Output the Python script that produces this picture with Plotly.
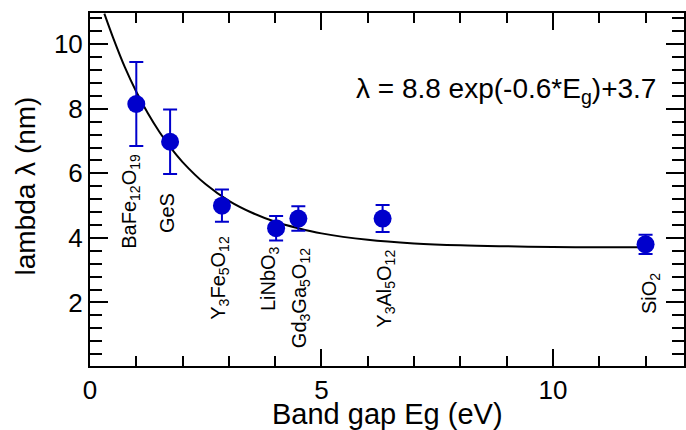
import plotly.graph_objects as go

# ---- data ----
materials = ["BaFe<sub>12</sub>O<sub>19</sub>", "GeS", "Y<sub>3</sub>Fe<sub>5</sub>O<sub>12</sub>",
             "LiNbO<sub>3</sub>", "Gd<sub>3</sub>Ga<sub>5</sub>O<sub>12</sub>",
             "Y<sub>3</sub>Al<sub>5</sub>O<sub>12</sub>", "SiO<sub>2</sub>"]
band_gap = [1.0, 1.73, 2.85, 4.02, 4.5, 6.32, 12.0]
lambda_nm = [8.15, 6.98, 5.0, 4.3, 4.6, 4.6, 3.8]
lambda_err = [1.3, 1.0, 0.5, 0.38, 0.38, 0.42, 0.3]

fit_x = [0.31, 0.5, 0.75, 1.0, 1.25, 1.5, 1.75, 2.0, 2.5, 3.0, 3.5, 4.0, 4.5,
         5.0, 6.0, 7.0, 8.0, 9.0, 10.0, 11.0, 12.0]
fit_y = [10.95, 10.2, 9.3, 8.53, 7.86, 7.28, 6.78, 6.35, 5.66, 5.15, 4.78, 4.5, 4.3,
         4.14, 3.94, 3.83, 3.77, 3.74, 3.72, 3.71, 3.71]

# axis ticks: major step, minor step
x_major, x_minor = 5, 1
y_major, y_minor = 2, 0.4

# ---- label placement (pixels) ----
label_xshift = [-6, -3, -2, -6, 2, 2, 5]
label_gap = [6, 17, 12, 4, 15, 16, 17]

BLUE = "#0000cc"
FONT = "Arial, Liberation Sans, sans-serif"

fig = go.Figure()
fig.add_trace(go.Scatter(x=fit_x, y=fit_y, mode="lines",
                         line=dict(color="black", width=2, shape="spline"),
                         hoverinfo="skip", showlegend=False))
fig.add_trace(go.Scatter(x=band_gap, y=lambda_nm, mode="markers",
                         marker=dict(size=18, color=BLUE, line=dict(width=0)),
                         error_y=dict(type="data", array=lambda_err, color=BLUE,
                                      thickness=2, width=7),
                         showlegend=False))

annotations = []
for name, xv, yv, ev, dx, gap in zip(materials, band_gap, lambda_nm, lambda_err,
                                      label_xshift, label_gap):
    annotations.append(dict(x=xv, y=yv - ev, xref="x", yref="y", text=name,
                            textangle=-90, showarrow=False, xanchor="center",
                            yanchor="top", xshift=dx, yshift=-gap,
                            font=dict(family=FONT, size=20, color="black")))

annotations.append(dict(x=0.4446, y=0.8346, xref="paper", yref="paper",
                        text="λ = 8.8 exp(-0.6*E<sub>g</sub>)+3.7", showarrow=False,
                        xanchor="left", yanchor="top",
                        font=dict(family=FONT, size=28, color="black")))
annotations.append(dict(x=0.5, y=0, xref="paper", yref="paper",
                        text="Band gap Eg (eV)", showarrow=False,
                        xanchor="center", yanchor="top", yshift=-30,
                        font=dict(family=FONT, size=29, color="black")))
annotations.append(dict(x=0, y=0.5, xref="paper", yref="paper",
                        text="lambda λ (nm)", showarrow=False, textangle=-90,
                        xanchor="center", yanchor="middle", xshift=-65, yshift=3,
                        font=dict(family=FONT, size=28, color="black")))

fig.update_layout(
    width=686, height=430,
    margin=dict(l=90, r=0, t=13, b=64),
    plot_bgcolor="white",
    font=dict(family=FONT, size=26, color="black"),
    annotations=annotations,
    xaxis=dict(range=[0, 12.83], showline=True, linecolor="black", linewidth=2,
               mirror="allticks", ticks="inside", ticklen=17, tickwidth=2,
               tickcolor="black", tick0=0, dtick=x_major,
               minor=dict(ticks="inside", ticklen=10, tickwidth=2, tickcolor="black",
                          dtick=x_minor)),
    yaxis=dict(range=[0.03, 10.97], showline=True, linecolor="black", linewidth=2,
               mirror="ticks", ticks="inside", ticklen=18, tickwidth=2,
               tickcolor="black", tick0=0, dtick=y_major,
               minor=dict(ticks="inside", ticklen=12, tickwidth=2, tickcolor="black",
                          dtick=y_minor)),
)

fig.write_html("out.html")
